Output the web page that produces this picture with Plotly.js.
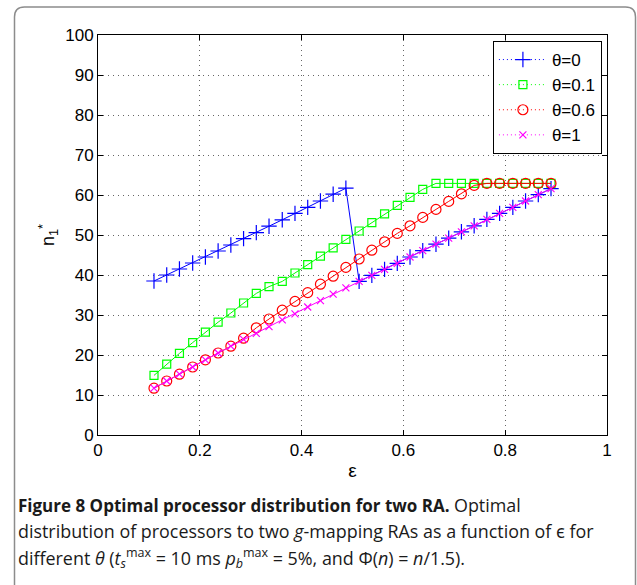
<!DOCTYPE html>
<html>
<head>
<meta charset="utf-8">
<script src="https://cdn.plot.ly/plotly-3.0.1.min.js"></script>
<style>html,body{margin:0;padding:0;background:#fff;}#chart{width:637px;height:585px;}</style>
</head>
<body>
<div id="chart"></div>
<script>
// epsilon values (x)
const epsilon = [0.110, 0.135, 0.160, 0.186, 0.211, 0.236, 0.261, 0.286, 0.311, 0.336, 0.362, 0.387, 0.412, 0.437, 0.462, 0.487,
                 0.513, 0.538, 0.563, 0.588, 0.613, 0.638, 0.664, 0.689, 0.714, 0.739, 0.764, 0.789, 0.815, 0.840, 0.865, 0.890];
// theta = 0
const theta0 = [38.5, 40.0, 41.5, 43.0, 44.5, 46.0, 47.5, 49.1, 50.6, 52.2, 53.8, 55.4, 56.9, 58.5, 60.2, 61.7,
                38.4, 39.9, 41.4, 42.9, 44.5, 46.1, 47.7, 49.2, 50.8, 52.3, 53.9, 55.4, 56.9, 58.5, 60.1, 61.6];
// theta = 0.1
const theta01 = [14.9, 17.7, 20.4, 23.1, 25.7, 28.2, 30.5, 33.0, 35.4, 37.1, 38.4, 40.5, 42.6, 44.7, 46.8, 48.9,
                 51.0, 53.1, 55.3, 57.4, 59.4, 61.4, 62.9, 62.9, 62.9, 62.9, 62.9, 62.9, 62.9, 62.9, 62.9, 62.9];
// theta = 0.6
const theta06 = [11.7, 13.5, 15.2, 17.0, 18.8, 20.5, 22.2, 24.2, 26.8, 29.0, 31.2, 33.4, 35.6, 37.7, 39.7, 41.9,
                 44.0, 46.2, 48.3, 50.4, 52.3, 54.4, 56.4, 58.4, 60.3, 62.4, 62.9, 62.9, 62.9, 62.9, 62.9, 62.9];
// theta = 1
const theta1 = [11.7, 13.5, 15.2, 17.0, 18.8, 20.5, 22.2, 23.9, 25.4, 27.1, 28.8, 30.3, 32.0, 33.6, 35.2, 36.8,
                38.4, 39.9, 41.4, 42.9, 44.5, 46.1, 47.7, 49.2, 50.8, 52.3, 53.9, 55.4, 56.9, 58.5, 60.1, 61.6];

const seriesNames = ['θ=0', 'θ=0.1', 'θ=0.6', 'θ=1'];
const seriesData = [theta0, theta01, theta06, theta1];
const colors = ['#0000ff', '#00ff00', '#ff0000', '#ff00ff'];
const symbols = ['cross-thin-open', 'square-open', 'circle-open', 'x-thin-open'];
const sizes = [11, 8, 10, 7];

const xTicks = [0, 0.2, 0.4, 0.6, 0.8, 1];
const yTicks = [0, 10, 20, 30, 40, 50, 60, 70, 80, 90, 100];

const traces = [];
seriesData.forEach((ys, i) => {
  traces.push({
    x: epsilon, y: ys, type: 'scatter', mode: 'lines+markers', showlegend: false,
    line: {color: colors[i], width: 1},
    marker: {symbol: symbols[i], size: sizes[i], color: colors[i], line: {color: colors[i], width: 1.2}},
    hoverinfo: 'none'
  });
});
// legend entries (dotted legend lines as in the reference)
seriesNames.forEach((nm, i) => {
  traces.push({
    x: [null], y: [null], type: 'scatter', mode: 'lines+markers', name: nm,
    line: {color: colors[i], width: 1, dash: '1px,3px'},
    marker: {symbol: symbols[i], size: sizes[i], color: colors[i], line: {color: colors[i], width: 1.2}}
  });
});

const L = 98, R = 607, T = 35, B = 435;
const W = R - L, H = B - T;
const px = v => (v - L) / W;
const py = v => (B - v) / H;

// rounded frame path in paper coords
const fx0 = px(14.5), fx1 = px(635.5), fy0 = py(7), fy1 = py(620);
const rx = 10 / W, ry = 10 / H;
const framePath = `M ${fx0} ${fy1} L ${fx0} ${fy0 - ry} Q ${fx0} ${fy0} ${fx0 + rx} ${fy0} L ${fx1 - rx} ${fy0} Q ${fx1} ${fy0} ${fx1} ${fy0 - ry} L ${fx1} ${fy1}`;

const capFont = {family: 'Open Sans, Noto Sans, sans-serif', size: 17.9, color: '#1a1a1a'};
const capBold = {family: 'Open Sans, Noto Sans, sans-serif', size: 17.0, color: '#1a1a1a'};

const layout = {
  width: 637, height: 585,
  margin: {l: L, r: 637 - R, t: T, b: 585 - B, pad: 0},
  paper_bgcolor: '#fff', plot_bgcolor: '#fff',
  font: {family: 'Liberation Sans, Arial, sans-serif', size: 17, color: '#000'},
  xaxis: {
    range: [0, 1], tickvals: xTicks, ticktext: xTicks.map(String),
    showline: true, linecolor: '#000', linewidth: 1, mirror: 'ticks',
    ticks: 'inside', ticklen: 5, tickcolor: '#000',
    showgrid: true, gridcolor: '#666', griddash: '1px,4px', gridwidth: 1,
    zeroline: false, tickfont: {size: 17},
    title: {text: 'ε', font: {size: 19}, standoff: 4}
  },
  yaxis: {
    range: [0, 100], tickvals: yTicks, ticktext: yTicks.map(String),
    showline: true, linecolor: '#000', linewidth: 1, mirror: 'ticks',
    ticks: 'inside', ticklen: 5, tickcolor: '#000',
    showgrid: true, gridcolor: '#666', griddash: '1px,4px', gridwidth: 1,
    zeroline: false, tickfont: {size: 17},
    title: {text: 'n<sub>1</sub><sup>*</sup>', font: {size: 18}, standoff: 5}
  },
  legend: {
    x: 0.99, y: 0.985, xanchor: 'right', yanchor: 'top',
    bgcolor: '#fff', bordercolor: '#000', borderwidth: 1,
    font: {size: 17}, itemwidth: 48, tracegroupgap: 0
  },
  shapes: [{type: 'path', xref: 'paper', yref: 'paper', path: framePath, line: {color: '#8c8c8c', width: 1.5}}],
  annotations: [
    {xref: 'paper', yref: 'paper', x: px(16), y: py(505), xanchor: 'left', yanchor: 'middle', showarrow: false, font: capBold,
     text: '<b>Figure 8 Optimal processor distribution for two RA.</b>'},
    {xref: 'paper', yref: 'paper', x: px(452), y: py(505), xanchor: 'left', yanchor: 'middle', showarrow: false, font: capFont,
     text: 'Optimal'},
    {xref: 'paper', yref: 'paper', x: px(16), y: py(531), xanchor: 'left', yanchor: 'middle', showarrow: false, font: capFont,
     text: 'distribution of processors to two <i>g</i>-mapping RAs as a function of ϵ for'},
    {xref: 'paper', yref: 'paper', x: px(16), y: py(558), xanchor: 'left', yanchor: 'middle', showarrow: false, font: capFont,
     text: 'different <i>θ</i> (<i>t</i><sub><i>s</i></sub><sup>max</sup> = 10 ms <i>p</i><sub><i>b</i></sub><sup>max</sup> = 5%, and Φ(<i>n</i>) = <i>n</i>/1.5).'}
  ]
};

Plotly.newPlot('chart', traces, layout, {displayModeBar: false, staticPlot: true});
</script>
</body>
</html>
